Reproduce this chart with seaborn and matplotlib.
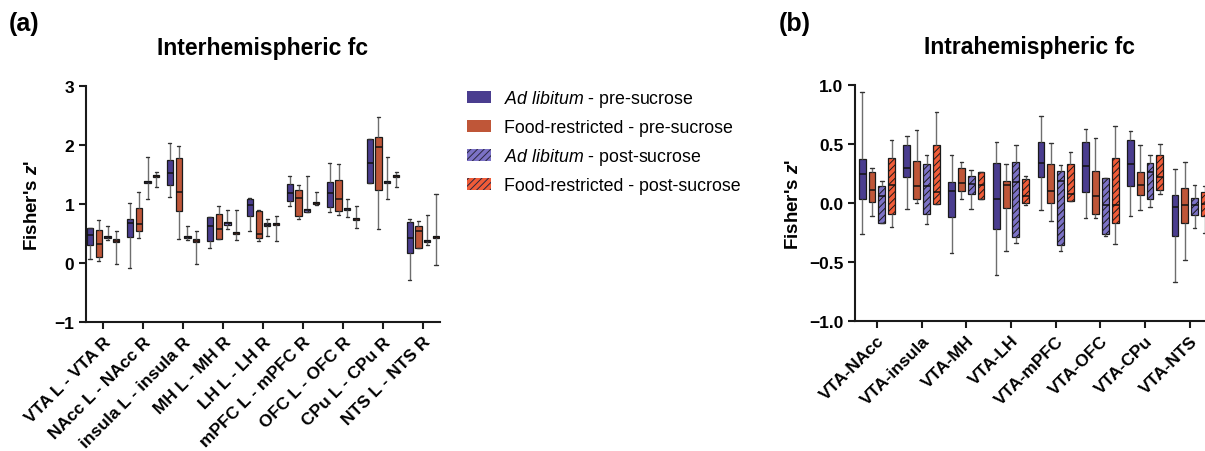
import numpy as np
import pandas as pd
import matplotlib
matplotlib.use("Agg")
import matplotlib.pyplot as plt
from matplotlib.patches import Patch
import seaborn as sns

# ---------------- data: (whisker low, Q1, median, Q3, whisker high) ----------------
inter_regions = ["VTA L - VTA R", "NAcc L - NAcc R", "insula L - insula R", "MH L - MH R",
                 "LH L - LH R", "mPFC L - mPFC R", "OFC L - OFC R", "CPu L - CPu R", "NTS L - NTS R"]
intra_regions = ["VTA-NAcc", "VTA-insula", "VTA-MH", "VTA-LH", "VTA-mPFC", "VTA-OFC", "VTA-CPu", "VTA-NTS"]

groups = ["Ad libitum - pre-sucrose", "Food-restricted - pre-sucrose",
          "Ad libitum - post-sucrose", "Food-restricted - post-sucrose"]

inter_al_pre = [(0.06, 0.30, 0.47, 0.60, 0.60), (-0.08, 0.44, 0.67, 0.75, 1.02),
                (1.12, 1.32, 1.53, 1.74, 2.04), (0.26, 0.38, 0.63, 0.78, 0.78),
                (0.54, 0.80, 0.98, 1.09, 1.10), (0.96, 1.05, 1.18, 1.34, 1.48),
                (0.87, 0.95, 1.19, 1.38, 1.70), (1.36, 1.36, 1.69, 2.11, 2.11),
                (-0.28, 0.17, 0.43, 0.69, 0.75)]
inter_fr_pre = [(0.03, 0.10, 0.32, 0.56, 0.73), (0.42, 0.54, 0.66, 0.94, 1.21),
                (0.40, 0.88, 1.21, 1.78, 1.98), (0.41, 0.41, 0.58, 0.83, 0.96),
                (0.38, 0.43, 0.49, 0.88, 0.90), (0.75, 0.79, 1.11, 1.23, 1.33),
                (0.81, 0.88, 1.09, 1.40, 1.67), (0.58, 1.24, 1.96, 2.13, 2.47),
                (0.25, 0.25, 0.54, 0.62, 0.71)]
inter_al_post = [(0.39, 0.42, 0.44, 0.46, 0.63), (1.08, 1.35, 1.37, 1.39, 1.80),
                 (0.39, 0.42, 0.44, 0.46, 0.63), (0.57, 0.65, 0.67, 0.69, 0.89),
                 (0.45, 0.63, 0.65, 0.67, 0.74), (0.87, 0.87, 0.89, 0.91, 1.48),
                 (0.78, 0.90, 0.92, 0.94, 1.08), (1.08, 1.35, 1.37, 1.39, 1.80),
                 (0.30, 0.35, 0.37, 0.39, 0.81)]
inter_fr_post = [(-0.02, 0.36, 0.38, 0.40, 0.54), (1.29, 1.45, 1.47, 1.49, 1.54),
                 (-0.02, 0.36, 0.38, 0.40, 0.54), (0.39, 0.49, 0.51, 0.53, 0.90),
                 (0.38, 0.64, 0.66, 0.68, 0.80), (0.99, 1.00, 1.02, 1.04, 1.20),
                 (0.60, 0.73, 0.75, 0.77, 0.97), (1.29, 1.45, 1.47, 1.49, 1.54),
                 (-0.04, 0.42, 0.44, 0.46, 1.17)]

intra_al_pre = [(-0.26, 0.03, 0.25, 0.37, 0.94), (-0.05, 0.22, 0.30, 0.49, 0.57),
                (-0.42, -0.12, 0.10, 0.18, 0.41), (-0.61, -0.22, 0.03, 0.34, 0.52),
                (-0.06, 0.22, 0.34, 0.52, 0.74), (-0.13, 0.09, 0.31, 0.52, 0.63),
                (-0.11, 0.14, 0.33, 0.53, 0.61), (-0.67, -0.28, -0.03, 0.07, 0.29)]
intra_fr_pre = [(-0.11, 0.01, 0.11, 0.26, 0.30), (0.00, 0.03, 0.14, 0.36, 0.62),
                (0.03, 0.10, 0.17, 0.30, 0.35), (-0.41, -0.04, 0.15, 0.19, 0.33),
                (-0.15, 0.00, 0.10, 0.33, 0.51), (-0.13, -0.09, 0.06, 0.27, 0.55),
                (-0.06, 0.07, 0.15, 0.26, 0.49), (-0.48, -0.17, -0.02, 0.13, 0.35)]
intra_al_post = [(-0.17, -0.17, 0.06, 0.14, 0.19), (-0.18, -0.09, 0.14, 0.33, 0.41),
                 (-0.05, 0.08, 0.16, 0.23, 0.28), (-0.34, -0.29, 0.18, 0.35, 0.49),
                 (-0.41, -0.36, 0.19, 0.27, 0.32), (-0.28, -0.26, -0.02, 0.21, 0.21),
                 (-0.03, 0.03, 0.26, 0.34, 0.41), (-0.21, -0.10, -0.02, 0.04, 0.15)]
intra_fr_post = [(-0.20, -0.09, 0.15, 0.38, 0.53), (-0.01, -0.01, 0.09, 0.49, 0.77),
                 (0.03, 0.03, 0.15, 0.26, 0.26), (-0.02, 0.00, 0.06, 0.20, 0.23),
                 (0.02, 0.02, 0.08, 0.33, 0.43), (-0.35, -0.17, -0.02, 0.38, 0.65),
                 (0.08, 0.11, 0.22, 0.41, 0.50), (-0.25, -0.11, -0.01, 0.09, 0.14)]

colors = ["#4a3d8f", "#bf5638", "#7c72c6", "#f15c38"]
post_colors = colors[2:]

# ---------------- style ----------------
sns.set_theme(style="ticks")
plt.rcParams["font.family"] = ["Liberation Sans", "DejaVu Sans"]
plt.rcParams["text.color"] = "black"
plt.rcParams["axes.labelcolor"] = "black"
plt.rcParams["xtick.color"] = "black"
plt.rcParams["ytick.color"] = "black"
plt.rcParams["mathtext.fontset"] = "custom"
plt.rcParams["mathtext.rm"] = "Liberation Sans"
plt.rcParams["mathtext.it"] = "Liberation Sans:italic"
plt.rcParams["mathtext.bf"] = "Liberation Sans:bold"
plt.rcParams["mathtext.bfit"] = "Liberation Sans:italic:bold"
plt.rcParams["hatch.linewidth"] = 0.7
plt.rcParams["hatch.color"] = "#2b2640"

TICK_FS = 12.5


def long_df(regions, series):
    rows = []
    for g, stats in zip(groups, series):
        for r, s in zip(regions, stats):
            for v in s:
                rows.append((r, g, v))
    return pd.DataFrame(rows, columns=["region", "group", "value"])


def draw(ax, regions, series):
    df = long_df(regions, series)
    sns.boxplot(data=df, x="region", y="value", hue="group", order=regions, hue_order=groups,
                palette=colors, saturation=1, whis=(0, 100), width=0.88, gap=0.3,
                linewidth=0.9, linecolor="#1a1a1a", fliersize=0, legend=False, ax=ax,
                whiskerprops=dict(color="#6e6e6e", linewidth=1.0),
                capprops=dict(color="#333333", linewidth=1.0),
                medianprops=dict(color="#111111", linewidth=1.1))
    post_rgb = [matplotlib.colors.to_rgb(c) for c in post_colors]
    for p in ax.patches:
        fc = p.get_facecolor()[:3]
        if any(np.allclose(fc, c, atol=0.01) for c in post_rgb):
            p.set_hatch("/////")
    for side in ["top", "right"]:
        ax.spines[side].set_visible(False)
    for side in ["left", "bottom"]:
        ax.spines[side].set_linewidth(1.5)
        ax.spines[side].set_color("#1a1a1a")
    ax.tick_params(axis="both", length=5, width=1.5, color="#1a1a1a", labelsize=TICK_FS,
                   labelcolor="black")
    ax.set_xlabel("")
    ax.set_xticks(range(len(regions)))
    ax.set_xticklabels(regions, rotation=45, ha="right", rotation_mode="anchor",
                       fontweight="bold", fontsize=TICK_FS)
    ax.set_ylabel("Fisher's $\\mathbfit{z}$'", fontsize=13.5, fontweight="bold", color="black")


fig = plt.figure(figsize=(12.05, 4.52), dpi=100)
ax_a = fig.add_axes([86 / 1205, 1 - 323 / 452, 354 / 1205, 236 / 452])
ax_b = fig.add_axes([855 / 1205, 1 - 322 / 452, 350 / 1205, 236 / 452])

draw(ax_a, inter_regions, [inter_al_pre, inter_fr_pre, inter_al_post, inter_fr_post])
ax_a.set_ylim(-1, 3)
ax_a.set_yticks([-1, 0, 1, 2, 3])
ax_a.set_yticklabels(["\u22121", "0", "1", "2", "3"], fontweight="bold", fontsize=TICK_FS)
ax_a.set_xlim(-0.43, 8.43)
ax_a.set_title("Interhemispheric fc", fontsize=16.5, fontweight="bold", pad=23, color="black")
ax_a.yaxis.set_label_coords(-0.127, 0.5)

draw(ax_b, intra_regions, [intra_al_pre, intra_fr_pre, intra_al_post, intra_fr_post])
ax_b.set_ylim(-1, 1)
ax_b.set_yticks([-1, -0.5, 0, 0.5, 1])
ax_b.set_yticklabels(["\u22121.0", "\u22120.5", "0.0", "0.5", "1.0"], fontweight="bold",
                     fontsize=TICK_FS)
ax_b.set_xlim(-0.49, 7.34)
ax_b.set_title("Intrahemispheric fc", fontsize=16.5, fontweight="bold", pad=23, color="black")
ax_b.yaxis.set_label_coords(-0.15, 0.5)

fig.text(9 / 1205, 1 - 12 / 452, "(a)", fontsize=18, fontweight="bold", va="top", ha="left")
fig.text(779 / 1205, 1 - 12 / 452, "(b)", fontsize=18, fontweight="bold", va="top", ha="left")

labels = ["$\\it{Ad\\ libitum}$ - pre-sucrose", "Food-restricted - pre-sucrose",
          "$\\it{Ad\\ libitum}$ - post-sucrose", "Food-restricted - post-sucrose"]
handles = [Patch(facecolor=colors[0], edgecolor="none"),
           Patch(facecolor=colors[1], edgecolor="none"),
           Patch(facecolor=colors[2], edgecolor="#2b2640", linewidth=0, hatch="/////"),
           Patch(facecolor=colors[3], edgecolor="#2b2640", linewidth=0, hatch="/////")]
fig.legend(handles, labels, loc="upper left", bbox_to_anchor=(467 / 1205, 1 - 89 / 452),
           frameon=False, fontsize=12.8, handlelength=1.35, handleheight=0.67,
           handletextpad=0.75, labelspacing=0.57, borderpad=0, borderaxespad=0,
           labelcolor="black")

fig.savefig("out.png", dpi=100)
